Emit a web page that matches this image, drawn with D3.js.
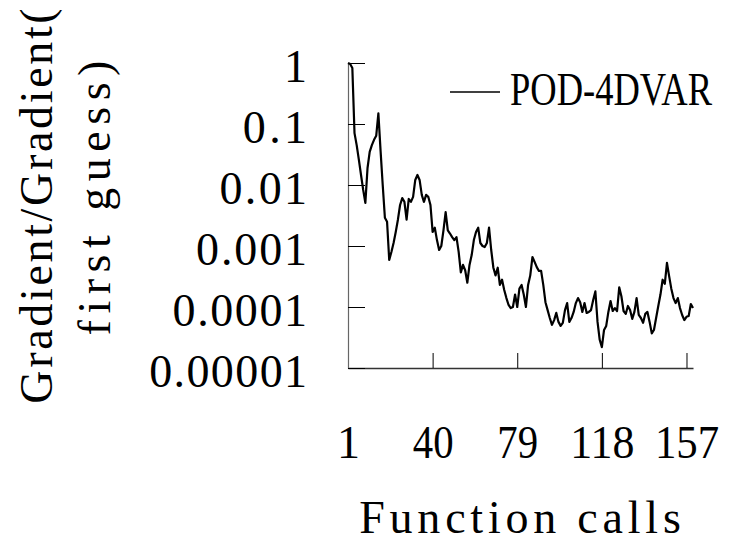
<!DOCTYPE html>
<html><head><meta charset="utf-8">
<script src="https://cdn.jsdelivr.net/npm/d3@7"></script>
<style>body{margin:0;background:#fff}svg{display:block}</style>
</head><body>
<svg id="chart" width="731" height="542"></svg>
<script>
// ---- data ----
const seriesName = "POD-4DVAR";
const gradientRatio = [
  1, 0.96, 0.83, 0.071, 0.045, 0.026, 0.0146, 0.0083, 0.0051, 0.019,
  0.035, 0.045, 0.055, 0.064, 0.15, 0.037, 0.01, 0.0029, 0.0025, 0.00059,
  0.0008, 0.00112, 0.0017, 0.0027, 0.0047, 0.0061, 0.0053, 0.0027, 0.0059, 0.0053,
  0.0064, 0.0121, 0.0146, 0.0121, 0.0069, 0.0053, 0.0069, 0.0064, 0.0047, 0.0017,
  0.002, 0.00125, 0.00086, 0.001, 0.0018, 0.0036, 0.0018, 0.0016, 0.0014, 0.00125,
  0.0014, 0.0008, 0.00037, 0.00049, 0.0004, 0.00025, 0.00049, 0.00071, 0.00125, 0.0017,
  0.002, 0.00112, 0.001, 0.00096, 0.00112, 0.002, 0.00086, 0.00044, 0.00033, 0.00044,
  0.00023, 0.00028, 0.00019, 0.00014, 0.000108, 0.000096, 0.0001, 0.00016, 0.0001, 0.0002,
  0.00023, 0.00016, 0.0001, 0.00023, 0.00033, 0.00066, 0.00055, 0.00045, 0.00039, 0.00039,
  0.00023, 0.00012, 0.000089, 0.000066, 0.000051, 0.000061, 0.00008, 0.000057, 0.000049, 0.000055,
  0.000089, 0.000116, 0.000057, 0.000066, 0.000083, 0.000116, 0.00014, 0.00012, 0.000083, 0.000116,
  0.00008, 0.000083, 0.000089, 0.00013, 0.00018, 0.000057, 0.000029, 0.000022, 0.000042, 0.000049,
  0.000083, 0.000125, 0.000086, 0.000096, 0.000086, 0.00021, 0.00015, 0.000086, 0.000077, 0.000104,
  0.000089, 0.000064, 0.000083, 0.00014, 0.000074, 0.000066, 0.000055, 0.000077, 0.000083, 0.000057,
  0.000037, 0.000042, 0.000066, 0.000104, 0.00016, 0.00028, 0.00024, 0.00053, 0.00032, 0.0002,
  0.00014, 0.000116, 0.00014, 0.000096, 0.000074, 0.000061, 0.000069, 0.000071, 0.000112, 0.000096
];
const functionCalls = gradientRatio.map((d, i) => i + 1);
const xTickValues = [1, 40, 79, 118, 157];
const yTickValues = [1, 0.1, 0.01, 0.001, 0.0001, 0.00001];
const yTickLabels = ["1", "0.1", "0.01", "0.001", "0.0001", "0.00001"];
const xTitle = "Function calls";
const yTitleLines = ["Gradient/Gradient(", "first guess)"];

// ---- drawing ----
const FONT = "'Liberation Serif', 'Times New Roman', serif";
const FS = 46;
const ADV = 23.4; // monospace-like advance used for text widths
const svg = d3.select("#chart");
const x = d3.scaleLinear().domain([1, 160]).range([348, 693]);
const y = d3.scaleLog().domain([0.00001, 1]).range([368, 63]);

function fitText(sel, adv) {
  const a = adv || ADV;
  sel.each(function () {
    const el = d3.select(this);
    const t = el.text();
    if (t.length < 2) return;
    const target = t.length * a - 6;
    const natural = this.getComputedTextLength();
    el.attr("textLength", target)
      .attr("lengthAdjust", natural > target ? "spacingAndGlyphs" : "spacing");
  });
}

// x axis
const gx = svg.append("g").attr("transform", `translate(0,${y(0.00001)})`)
  .call(d3.axisBottom(x).tickValues(xTickValues).tickFormat(d3.format("d"))
    .tickSizeInner(-15).tickSizeOuter(0));
gx.select(".domain").attr("stroke", "#333").attr("stroke-width", 1.3);
gx.selectAll(".tick line").attr("stroke", "#000");
gx.selectAll(".tick text").attr("y", 90).attr("dy", null)
  .attr("font-family", FONT).attr("font-size", FS).attr("fill", "#000").call(fitText);

// y axis
const gy = svg.append("g").attr("transform", `translate(${x(1)},0)`)
  .call(d3.axisLeft(y).tickValues(yTickValues).tickFormat((d, i) => yTickLabels[i])
    .tickSizeInner(-17).tickSizeOuter(0));
gy.select(".domain").attr("stroke", "#666").attr("stroke-width", 1.2);
gy.selectAll(".tick line").attr("stroke", "#000");
gy.selectAll(".tick text").attr("x", -41).attr("y", 18).attr("dy", null)
  .attr("font-family", FONT).attr("font-size", FS).attr("fill", "#000").call(fitText);
svg.selectAll(".domain").attr("fill", "none");

// line
const line = d3.line().x((d, i) => x(functionCalls[i])).y(d => y(d));
svg.append("path").datum(gradientRatio)
  .attr("d", line).attr("fill", "none").attr("stroke", "#000")
  .attr("stroke-width", 2.2).attr("stroke-linejoin", "round");

// legend (narrow, tall lettering like the reference's monospace font)
svg.append("line").attr("x1", 450).attr("x2", 500).attr("y1", 92).attr("y2", 92)
  .attr("stroke", "#000").attr("stroke-width", 1.5);
svg.append("text").attr("transform", "translate(510,105) scale(1,1.25)").text(seriesName)
  .attr("font-family", FONT).attr("font-size", 36.5);

// axis titles
svg.append("text").attr("x", 520).attr("y", 533).attr("text-anchor", "middle")
  .text(xTitle).attr("font-family", FONT).attr("font-size", FS).call(fitText);
const yPos = [[52, 206], [110, 198]];
yTitleLines.forEach((t, i) => {
  svg.append("text").attr("transform", `translate(${yPos[i][0]},${yPos[i][1]}) rotate(-90)`)
    .attr("text-anchor", "middle").text(t)
    .attr("font-family", FONT).attr("font-size", FS).call(fitText, i === 0 ? 22.3 : ADV);
});
</script>
</body></html>
